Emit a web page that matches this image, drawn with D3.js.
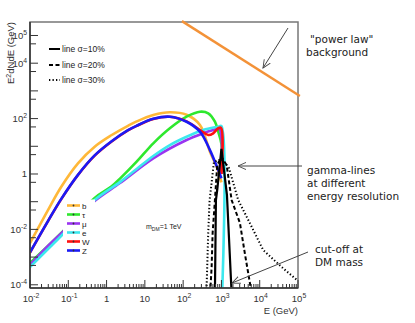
<!DOCTYPE html>
<html><head><meta charset="utf-8">
<script src="https://cdn.jsdelivr.net/npm/d3@7"></script>
<style>body{margin:0;background:#fff}svg{display:block}</style>
</head><body>
<script>
// ---------- data ----------
const channels = ["b","τ","μ","e","W","Z"];
const channelColors = ["#FFB838","#2EE82E","#9A34F0","#3BE8EE","#FF1010","#1A1AF5"];
const bCurve  = [[0.01,0.0032],[0.0295,0.05],[0.0656,0.348],[0.179,2.43],[0.489,9.7],[1.33,25],[3.62,55],[6.1,79],[16.6,135],[45,170],[123,138],[275,59],[501,6.4],[750,1.8],[1000,0.5]];
const tauCurve = [[0.01,0.00061],[0.0273,0.0023],[0.0656,0.0074],[0.489,0.136],[1.33,0.35],[2.24,0.68],[6.1,2.78],[16.6,12.8],[45,44.7],[123,117],[275,177],[452,155],[676,77],[824,33.6],[1000,12],[1000,1]];
const muCurve  = [[0.01,0.00052],[0.0273,0.0023],[0.0728,0.0083],[0.489,0.106],[2.24,0.47],[16.6,3.69],[123,16.9],[335,29.5],[611,38.7],[870,44],[1000,20],[1000,1]];
const eCurve   = [[0.01,0.00044],[0.0278,0.0018],[0.0728,0.0068],[0.489,0.115],[2.24,0.51],[6.1,1.51],[16.6,4.47],[45,11.1],[123,22.2],[335,38.7],[824,51],[1000,54],[1000,0.00001]];
const wCurve   = [[0.01,0.00145],[0.0295,0.0198],[0.0656,0.124],[0.179,0.92],[0.489,4.6],[1.33,14.6],[3.62,37.6],[6.1,54.5],[16.6,97],[45,116],[123,79],[275,38.7],[452,25.6],[611,29.5],[824,44.7],[980,46],[1000,1]];
const zCurve   = [[0.01,0.00148],[0.0295,0.020],[0.0656,0.126],[0.179,0.93],[0.489,4.68],[1.33,14.8],[3.62,38],[6.1,55],[16.6,98],[45,117],[123,77],[275,33.6],[501,7.3],[824,1.39],[1000,0.7]];
const channelCurves = [bCurve,tauCurve,muCurve,eCurve,wCurve,zCurve];

const lineLabels = ["line σ=10%","line σ=20%","line σ=30%"];
const line10 = [[676,0.00005],[718,0.115],[776,0.264],[1000,8.0],[1393,0.175],[1845,0.00005]];
const line20 = [[509,0.00005],[555,0.00045],[589,0.0074],[676,0.115],[776,2.11],[1000,4.1],[1368,2.11],[1845,0.115],[3040,0.017],[4110,0.0013],[6150,0.00005]];
const line30 = [[405,0.00005],[425,0.00045],[452,0.0074],[492,0.115],[637,2.71],[1000,3.5],[1570,1.65],[2740,0.115],[5550,0.0166],[12300,0.0018],[41100,0.00039],[93600,0.00015]];
const gammaLines = [line10,line20,line30];
const powerLaw = [[93,330000],[112000,655]];

const xTickValues = [1e-2,1e-1,1,10,1e2,1e3,1e4,1e5];
const xTickLabels = [["10","-2"],["10","-1"],["1",""],["10",""],["10","2"],["10","3"],["10","4"],["10","5"]];
const yTickValues = [1e5,1e4,1e2,1,1e-2,1e-4];
const yTickLabels = [["10","5"],["10","4"],["10","2"],["1",""],["10","-2"],["10","-4"]];

// ---------- drawing ----------
const W = 415, H = 323;
const svg = d3.select("body").append("svg").attr("width",W).attr("height",H);
const x = d3.scaleLog().domain([1e-2,1e5]).range([30,298]);
const y = d3.scaleLog().domain([Math.pow(10,-4.116),Math.pow(10,5.487)]).range([288,22]);
const font = "Liberation Sans, Arial, sans-serif";

svg.append("defs").append("clipPath").attr("id","clip")
  .append("rect").attr("x",30).attr("y",22).attr("width",268).attr("height",266);
const arrow = svg.select("defs").append("marker").attr("id","arr")
  .attr("viewBox","0 -5 10 10").attr("refX",9).attr("refY",0)
  .attr("markerWidth",9).attr("markerHeight",9).attr("orient","auto")
  .attr("markerUnits","userSpaceOnUse");
arrow.append("path").attr("d","M0,-4L9,0L0,4").attr("fill","none").attr("stroke","#444").attr("stroke-width",1);

const plot = svg.append("g").attr("clip-path","url(#clip)");
const line = d3.line().x(d=>x(d[0])).y(d=>y(d[1])).curve(d3.curveCatmullRom.alpha(0.5));
const lineLin = d3.line().x(d=>x(d[0])).y(d=>y(d[1]));

channelCurves.forEach((c,i)=>{
  plot.append("path").attr("d",line(c)).attr("fill","none")
    .attr("stroke",channelColors[i]).attr("stroke-width",2.6).attr("stroke-linejoin","round");
});
const dashes = [null,"4,2.5","1.3,2.2"];
gammaLines.forEach((c,i)=>{
  plot.append("path").attr("d",lineLin(c)).attr("fill","none")
    .attr("stroke","#000").attr("stroke-width",i==0?2.2:2)
    .attr("stroke-dasharray",dashes[i]);
});

// frame
svg.append("rect").attr("x",30).attr("y",22).attr("width",268).attr("height",266)
  .attr("fill","none").attr("stroke","#777").attr("stroke-width",1.5);
svg.append("line").attr("x1",30).attr("x2",30).attr("y1",22).attr("y2",288).attr("stroke","#333").attr("stroke-width",1.5);
svg.append("line").attr("x1",30).attr("x2",298).attr("y1",288).attr("y2",288).attr("stroke","#333").attr("stroke-width",1.5);

// x ticks
const xMinor = [];
for(let e=-2;e<5;e++) for(let k=2;k<=9;k++) xMinor.push(k*Math.pow(10,e));
xMinor.forEach(v=>svg.append("line").attr("x1",x(v)).attr("x2",x(v)).attr("y1",288).attr("y2",284).attr("stroke","#333"));
xTickValues.forEach(v=>svg.append("line").attr("x1",x(v)).attr("x2",x(v)).attr("y1",288).attr("y2",280).attr("stroke","#333"));
// y ticks
const yMinor = [];
for(let e=-5;e<5;e++) yMinor.push(5*Math.pow(10,e));
yMinor.filter(v=>y(v)>22&&y(v)<288).forEach(v=>svg.append("line").attr("x1",30).attr("x2",36).attr("y1",y(v)).attr("y2",y(v)).attr("stroke","#333"));
for(let e=-4;e<=5;e++){const v=Math.pow(10,e);svg.append("line").attr("x1",30).attr("x2",38).attr("y1",y(v)).attr("y2",y(v)).attr("stroke","#333");}

function supText(g,xp,yp,lab,anchor,size){
  const t = g.append("text").attr("x",xp).attr("y",yp).attr("text-anchor",anchor)
    .attr("font-family",font).attr("font-size",size).attr("fill","#333");
  t.append("tspan").text(lab[0]);
  if(lab[1]) t.append("tspan").attr("dy",-4).attr("font-size",size*0.72).text(lab[1]);
  return t;
}
xTickValues.forEach((v,i)=>supText(svg,x(v)+(xTickLabels[i][1]?1:0),302,xTickLabels[i],"middle",9.5));
yTickValues.forEach((v,i)=>supText(svg,27,y(v)+3.5,yTickLabels[i],"end",9.5));

// axis titles
svg.append("text").attr("x",298).attr("y",314).attr("text-anchor","end")
  .attr("font-family",font).attr("font-size",9.5).attr("fill","#333").text("E (GeV)");
const yt = svg.append("text").attr("transform","translate(14,22) rotate(-90)").attr("text-anchor","end")
  .attr("font-family",font).attr("font-size",9.5).attr("fill","#333");
yt.append("tspan").text("E");
yt.append("tspan").attr("dy",-3.5).attr("font-size",7).text("2");
yt.append("tspan").attr("dy",3.5).text("dNdE (GeV)");

// legend: gamma lines
lineLabels.forEach((l,i)=>{
  const yy = [49,65,80][i];
  svg.append("line").attr("x1",49).attr("x2",60).attr("y1",yy).attr("y2",yy)
    .attr("stroke","#000").attr("stroke-width",2).attr("stroke-dasharray",dashes[i]);
  svg.append("text").attr("x",62).attr("y",yy+3).attr("font-family",font).attr("font-size",8.5).attr("fill","#222").text(l);
});

// legend: channels (white box covers curves)
svg.append("rect").attr("x",63).attr("y",199.5).attr("width",32).attr("height",56).attr("fill","#fff");
channels.forEach((c,i)=>{
  const yy = 205.5 + i*9;
  svg.append("line").attr("x1",67).attr("x2",80).attr("y1",yy).attr("y2",yy)
    .attr("stroke",channelColors[i]).attr("stroke-width",2.6);
  svg.append("circle").attr("cx",73.5).attr("cy",yy).attr("r",0.9).attr("fill","#333");
  svg.append("text").attr("x",82).attr("y",yy+3).attr("font-family",font).attr("font-size",8).attr("fill","#222").text(c);
});

// m_DM label
const mt = svg.append("text").attr("x",146).attr("y",229).attr("font-family",font).attr("font-size",7).attr("fill","#222");
mt.append("tspan").text("m");
mt.append("tspan").attr("dy",1.5).attr("font-size",5).text("DM");
mt.append("tspan").attr("dy",-1.5).text("=1 TeV");

// power law background line (not clipped)
svg.append("path").attr("d",lineLin(powerLaw)).attr("fill","none").attr("stroke","#F39238").attr("stroke-width",2.4);

// annotations
const af = "DejaVu Sans, sans-serif";
const notes = [["\"power law\"",310,43],["background",306,56],["gamma-lines",307,174],["at different",307,187],["energy resolution",307,200],["cut-off at",315,253],["DM mass",315,266]];
notes.forEach(n=>svg.append("text").attr("x",n[1]).attr("y",n[2]).attr("font-family",af).attr("font-size",10.5).attr("fill","#222").text(n[0]));
const arrows = [[288,28,263,68],[302,166,238,166],[308,252,232,283]];
arrows.forEach(a=>svg.append("line").attr("x1",a[0]).attr("y1",a[1]).attr("x2",a[2]).attr("y2",a[3])
  .attr("stroke","#444").attr("stroke-width",1).attr("marker-end","url(#arr)"));
</script>
</body></html>
